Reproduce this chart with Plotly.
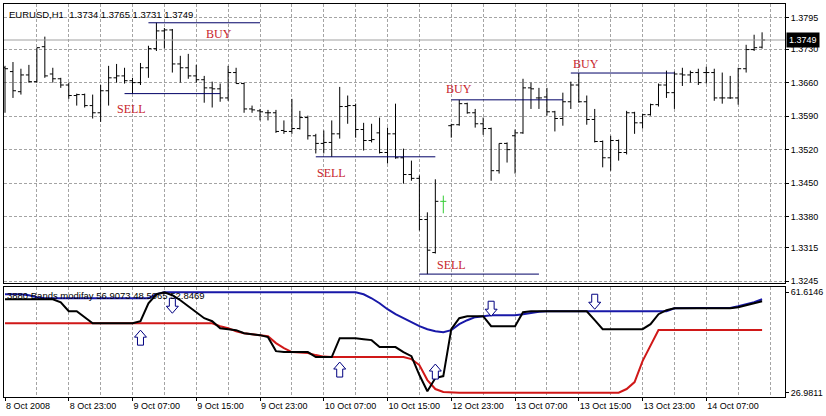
import plotly.graph_objects as go

# ---------------- data ----------------
bar_index = list(range(96))

tick_bars = [0, 8, 16, 24, 32, 40, 48, 56, 64, 72, 80, 88]
tick_text = ["8 Oct 2008", "8 Oct 23:00", "9 Oct 07:00", "9 Oct 15:00", "9 Oct 23:00",
             "10 Oct 07:00", "10 Oct 15:00", "12 Oct 23:00", "13 Oct 07:00",
             "13 Oct 15:00", "13 Oct 23:00", "14 Oct 07:00"]

price_ticks = [1.3795, 1.3730, 1.3660, 1.3590, 1.3520, 1.3450, 1.3380, 1.3315, 1.3245]

opens = [
    1.3691, 1.3683, 1.3641, 1.3676, 1.3662, 1.3735, 1.3678, 1.3668, 1.3655, 1.3633,
    1.3635, 1.3612, 1.3597, 1.3643, 1.3670, 1.3674, 1.3664, 1.3660, 1.3691, 1.3731,
    1.3768, 1.3770, 1.3699, 1.3691, 1.3674, 1.3666, 1.3649, 1.3647, 1.3628, 1.3681,
    1.3658, 1.3605, 1.3601, 1.3597, 1.3597, 1.3560, 1.3558, 1.3564, 1.3587, 1.3549,
    1.3533, 1.3535, 1.3553, 1.3610, 1.3612, 1.3562, 1.3539, 1.3555, 1.3514, 1.3553,
    1.3503, 1.3468, 1.3460, 1.3374, 1.3305, 1.3412, 1.3570, 1.3572, 1.3616, 1.3597,
    1.3574, 1.3564, 1.3476, 1.3533, 1.3549, 1.3555, 1.3649, 1.3628, 1.3630, 1.3599,
    1.3585, 1.3620, 1.3655, 1.3620, 1.3583, 1.3537, 1.3503, 1.3539, 1.3514, 1.3597,
    1.3576, 1.3593, 1.3614, 1.3655, 1.3639, 1.3678, 1.3676, 1.3681, 1.3681, 1.3681,
    1.3628, 1.3628, 1.3628, 1.3689, 1.3729, 1.3734]
highs = [
    1.3695, 1.3703, 1.3689, 1.3697, 1.3733, 1.3756, 1.3691, 1.3670, 1.3660, 1.3637,
    1.3637, 1.3635, 1.3655, 1.3695, 1.3699, 1.3691, 1.3670, 1.3701, 1.3737, 1.3785,
    1.3774, 1.3772, 1.3716, 1.3720, 1.3697, 1.3674, 1.3662, 1.3658, 1.3695, 1.3691,
    1.3660, 1.3612, 1.3605, 1.3603, 1.3603, 1.3581, 1.3626, 1.3601, 1.3591, 1.3553,
    1.3560, 1.3581, 1.3651, 1.3633, 1.3616, 1.3576, 1.3574, 1.3587, 1.3566, 1.3616,
    1.3522, 1.3497, 1.3466, 1.3389, 1.3458, 1.3424, 1.3574, 1.3624, 1.3618, 1.3605,
    1.3587, 1.3566, 1.3533, 1.3535, 1.3562, 1.3668, 1.3660, 1.3649, 1.3649, 1.3601,
    1.3639, 1.3662, 1.3680, 1.3633, 1.3605, 1.3539, 1.3549, 1.3541, 1.3601, 1.3599,
    1.3595, 1.3616, 1.3658, 1.3685, 1.3683, 1.3691, 1.3685, 1.3689, 1.3693, 1.3689,
    1.3681, 1.3674, 1.3691, 1.3739, 1.3760, 1.3765]
lows = [
    1.3597, 1.3628, 1.3635, 1.3660, 1.3660, 1.3670, 1.3660, 1.3649, 1.3626, 1.3612,
    1.3608, 1.3585, 1.3578, 1.3612, 1.3660, 1.3658, 1.3637, 1.3655, 1.3670, 1.3726,
    1.3731, 1.3681, 1.3660, 1.3668, 1.3660, 1.3618, 1.3608, 1.3620, 1.3622, 1.3658,
    1.3597, 1.3597, 1.3581, 1.3581, 1.3555, 1.3553, 1.3553, 1.3562, 1.3541, 1.3512,
    1.3512, 1.3505, 1.3543, 1.3574, 1.3545, 1.3518, 1.3535, 1.3512, 1.3491, 1.3501,
    1.3449, 1.3455, 1.3351, 1.3260, 1.3303, 1.3387, 1.3545, 1.3570, 1.3595, 1.3566,
    1.3551, 1.3455, 1.3470, 1.3493, 1.3470, 1.3553, 1.3605, 1.3605, 1.3591, 1.3558,
    1.3570, 1.3605, 1.3618, 1.3572, 1.3535, 1.3483, 1.3476, 1.3497, 1.3510, 1.3553,
    1.3564, 1.3591, 1.3610, 1.3628, 1.3605, 1.3653, 1.3660, 1.3655, 1.3658, 1.3622,
    1.3616, 1.3626, 1.3614, 1.3681, 1.3726, 1.3731]
closes = [
    1.3689, 1.3643, 1.3676, 1.3662, 1.3733, 1.3674, 1.3668, 1.3655, 1.3633, 1.3635,
    1.3612, 1.3597, 1.3643, 1.3670, 1.3674, 1.3664, 1.3660, 1.3691, 1.3731, 1.3768,
    1.3770, 1.3699, 1.3691, 1.3674, 1.3666, 1.3649, 1.3647, 1.3628, 1.3681, 1.3658,
    1.3605, 1.3603, 1.3599, 1.3597, 1.3558, 1.3558, 1.3564, 1.3587, 1.3549, 1.3533,
    1.3535, 1.3553, 1.3610, 1.3612, 1.3562, 1.3539, 1.3541, 1.3514, 1.3553, 1.3503,
    1.3468, 1.3460, 1.3374, 1.3310, 1.3412, 1.3412, 1.3572, 1.3616, 1.3597, 1.3574,
    1.3564, 1.3476, 1.3533, 1.3520, 1.3555, 1.3649, 1.3647, 1.3628, 1.3599, 1.3585,
    1.3620, 1.3655, 1.3620, 1.3583, 1.3537, 1.3503, 1.3539, 1.3514, 1.3597, 1.3576,
    1.3593, 1.3614, 1.3655, 1.3639, 1.3678, 1.3676, 1.3681, 1.3660, 1.3681, 1.3628,
    1.3628, 1.3628, 1.3689, 1.3729, 1.3733, 1.3749]
doji_bar = 55
bid_price = 1.3749

signal_labels = ["BUY", "SELL", "SELL", "SELL", "BUY", "BUY"]
signal_levels = [1.3785, 1.3637, 1.3505, 1.3260, 1.3624, 1.3680]
signal_start = [18, 15, 39, 52, 56, 71]
signal_end = [32, 27, 54, 67, 70, 84]

upper_band = ([60.93, 60.93, 60.93, 60.58, 59.89] + [59.55] * 14 + [60.93] + [61.61] * 25 +
              [60.93, 59.55, 57.83, 55.77, 54.05, 52.67, 51.30, 49.92, 48.89, 48.20,
               47.86, 48.55, 50.61, 51.98, 53.02, 53.36] + [53.70] * 4 +
              [54.05, 54.56, 54.91] + [55.08] * 16 + [56.11] + [56.22] * 7 +
              [56.80, 57.49, 58.17, 59.21])
main_line = ([59.21] * 7 + [58.17, 55.08, 55.08, 53.02] + [50.95] * 6 +
             [51.64, 57.83, 60.93, 61.61, 60.58, 58.86, 56.80, 54.74, 52.67, 51.64,
              49.23, 48.89, 48.55, 47.51, 47.17, 46.83, 46.14, 41.32] + [40.98] * 4 +
             [39.26] * 3 + [45.79] * 3 + [45.45, 45.11] + [42.70] * 3 +
             [40.98, 39.60, 33.07, 27.50, 32.03, 32.72, 48.89, 52.67] + [53.36] * 3 +
             [49.92] * 4 + [54.74] + [55.08] * 8 + [51.98] + [48.89] * 6 +
             [50.61, 54.05, 55.42] + [56.11] * 8 + [56.46, 57.14, 57.83, 58.52])
lower_band = ([50.95] * 27 +
              [49.92, 49.23, 48.20, 47.51, 47.17, 46.83, 46.48, 44.08, 42.36, 40.98,
               40.81, 40.64, 39.95, 39.43] + [39.26] * 10 +
              [38.57, 36.51, 31.34, 28.25, 27.22] + [26.9811] * 22 +
              [28.25, 30.66, 37.88, 43.39] + [48.5965] * 14)

up_arrow_bars = [17, 42, 54]
up_arrow_vals = [45.79, 34.79, 34.10]
down_arrow_bars = [21, 61, 74]
down_arrow_vals = [57.14, 56.11, 58.52]

indicator_max = 61.6146
indicator_min = 26.9811

title_text = "EURUSD,H1  1.3734 1.3765 1.3731 1.3749"
indicator_text = "3880 Bands modifay 56.9073 48.5965 52.8469"

# ---------------- styles ----------------
GRID = "#a4a4a4"
DASH = "3px,2px"
SIG_RED = "#c8242b"
ARROW_BLUE = "#000080"
AXFONT = dict(family="Liberation Sans", size=9, color="black")
UP_PATH = "M0,8 L6,1 L3,1 L3,-7 L-3,-7 L-3,1 L-6,1 Z"
DOWN_PATH = "M0,-8 L6,-1 L3,-1 L3,7 L-3,7 L-3,-1 L-6,-1 Z"

fig = go.Figure()

normal = [i for i in bar_index if i != doji_bar]
fig.add_trace(go.Ohlc(
    x=[bar_index[i] for i in normal],
    open=[opens[i] for i in normal], high=[highs[i] for i in normal],
    low=[lows[i] for i in normal], close=[closes[i] for i in normal],
    increasing=dict(line=dict(color="black", width=1)),
    decreasing=dict(line=dict(color="black", width=1)),
    tickwidth=0.38, xaxis="x", yaxis="y", hoverinfo="skip"))
fig.add_trace(go.Ohlc(
    x=[bar_index[doji_bar]], open=[opens[doji_bar]], high=[highs[doji_bar]],
    low=[lows[doji_bar]], close=[closes[doji_bar]],
    increasing=dict(line=dict(color="#33cc33", width=1)),
    decreasing=dict(line=dict(color="#33cc33", width=1)),
    tickwidth=0.38, xaxis="x", yaxis="y", hoverinfo="skip"))

# indicator lines
fig.add_trace(go.Scatter(x=bar_index, y=lower_band, mode="lines",
                         line=dict(color="#d01818", width=2), xaxis="x2", yaxis="y2",
                         hoverinfo="skip"))
fig.add_trace(go.Scatter(x=bar_index, y=upper_band, mode="lines",
                         line=dict(color="#1818a8", width=2), xaxis="x2", yaxis="y2",
                         hoverinfo="skip"))
fig.add_trace(go.Scatter(x=bar_index, y=main_line, mode="lines",
                         line=dict(color="black", width=2), xaxis="x2", yaxis="y2",
                         hoverinfo="skip"))

shapes = [dict(type="line", xref="x domain", yref="y", x0=0, x1=1,
               y0=bid_price, y1=bid_price, line=dict(color="#a0a0a0", width=1))]
for lvl, s, e in zip(signal_levels, signal_start, signal_end):
    shapes.append(dict(type="line", xref="x", yref="y", x0=s, x1=e, y0=lvl, y1=lvl,
                       line=dict(color="#000066", width=1)))
for bx, v in zip(up_arrow_bars, up_arrow_vals):
    shapes.append(dict(type="path", xref="x2", yref="y2", xsizemode="pixel",
                       ysizemode="pixel", xanchor=bx, yanchor=v, path=UP_PATH,
                       fillcolor="white", line=dict(color=ARROW_BLUE, width=1),
                       layer="above"))
for bx, v in zip(down_arrow_bars, down_arrow_vals):
    shapes.append(dict(type="path", xref="x2", yref="y2", xsizemode="pixel",
                       ysizemode="pixel", xanchor=bx, yanchor=v, path=DOWN_PATH,
                       fillcolor="white", line=dict(color=ARROW_BLUE, width=1),
                       layer="above"))

# label placement (bar position, vertical pixel offset from its line)
label_place = [(26.8, -11), (15.9, -15), (41.0, -16), (56.0, 9), (57.0, 11), (72.9, 9)]
annotations = []
for txt, lvl, (bx, dy) in zip(signal_labels, signal_levels, label_place):
    annotations.append(dict(x=bx, y=lvl, xref="x", yref="y", text=txt, showarrow=False,
                            yshift=dy, font=dict(family="Liberation Serif", size=12,
                                                 color=SIG_RED)))
annotations.append(dict(x=0, y=1, xref="x domain", yref="y domain", text=title_text,
                        showarrow=False, xanchor="left", yanchor="middle",
                        xshift=3, yshift=-10,
                        font=dict(family="Liberation Sans", size=9.5, color="black")))
annotations.append(dict(x=0, y=1, xref="x2 domain", yref="y2 domain", text=indicator_text,
                        showarrow=False, xanchor="left", yanchor="middle",
                        xshift=1, yshift=-9,
                        font=dict(family="Liberation Sans", size=9.5, color="black")))
annotations.append(dict(x=1, y=bid_price, xref="x domain", yref="y", text=f"{bid_price:.4f}",
                        showarrow=False, xanchor="left", yanchor="middle", xshift=1,
                        bgcolor="black", borderpad=2,
                        font=dict(family="Liberation Sans", size=9, color="white")))

xcommon = dict(range=[-0.125, 97.875], tickvals=tick_bars, showgrid=True, gridcolor=GRID,
               griddash=DASH, gridwidth=1, zeroline=False, showline=True,
               linecolor="black", linewidth=1, mirror=True, fixedrange=True,
               minor=dict(tick0=0, dtick=4, showgrid=True, gridcolor=GRID,
                          griddash=DASH, gridwidth=1))

fig.update_layout(
    width=826, height=416,
    margin=dict(l=3, r=39, t=3, b=19),
    paper_bgcolor="white", plot_bgcolor="white",
    showlegend=False, hovermode=False,
    font=AXFONT,
    xaxis=dict(domain=[0, 1], anchor="y", showticklabels=False, ticks="",
               rangeslider=dict(visible=False), **xcommon),
    xaxis2=dict(domain=[0, 1], anchor="y2", ticktext=tick_text, ticks="outside",
                ticklen=3, tickcolor="black", ticklabelposition="outside right",
                tickfont=AXFONT, rangeslider=dict(visible=False), **xcommon),
    yaxis=dict(domain=[0.28934, 1], anchor="x", range=[1.32408, 1.38242], side="right",
               tickvals=price_ticks, ticktext=[f"{v:.4f}" for v in price_ticks],
               ticks="outside", ticklen=3, tickcolor="black", tickfont=AXFONT,
               showgrid=True, gridcolor=GRID, griddash=DASH, gridwidth=1,
               zeroline=False, showline=True, linecolor="black", linewidth=1,
               mirror=True, fixedrange=True),
    yaxis2=dict(domain=[0, 0.28046], anchor="x2", range=[25.502, 63.506], side="right",
                tickvals=[indicator_max, indicator_min],
                ticktext=[f"{indicator_max:.4f}", f"{indicator_min:.4f}"],
                ticks="outside", ticklen=3, tickcolor="black", tickfont=AXFONT,
                showgrid=False, zeroline=False, showline=True, linecolor="black",
                linewidth=1, mirror=True, fixedrange=True),
    shapes=shapes,
    annotations=annotations,
)

fig.write_html("out.html", config={"displayModeBar": False},
               post_script="document.body.style.margin='0px';"
                           "document.body.style.overflow='hidden';")
